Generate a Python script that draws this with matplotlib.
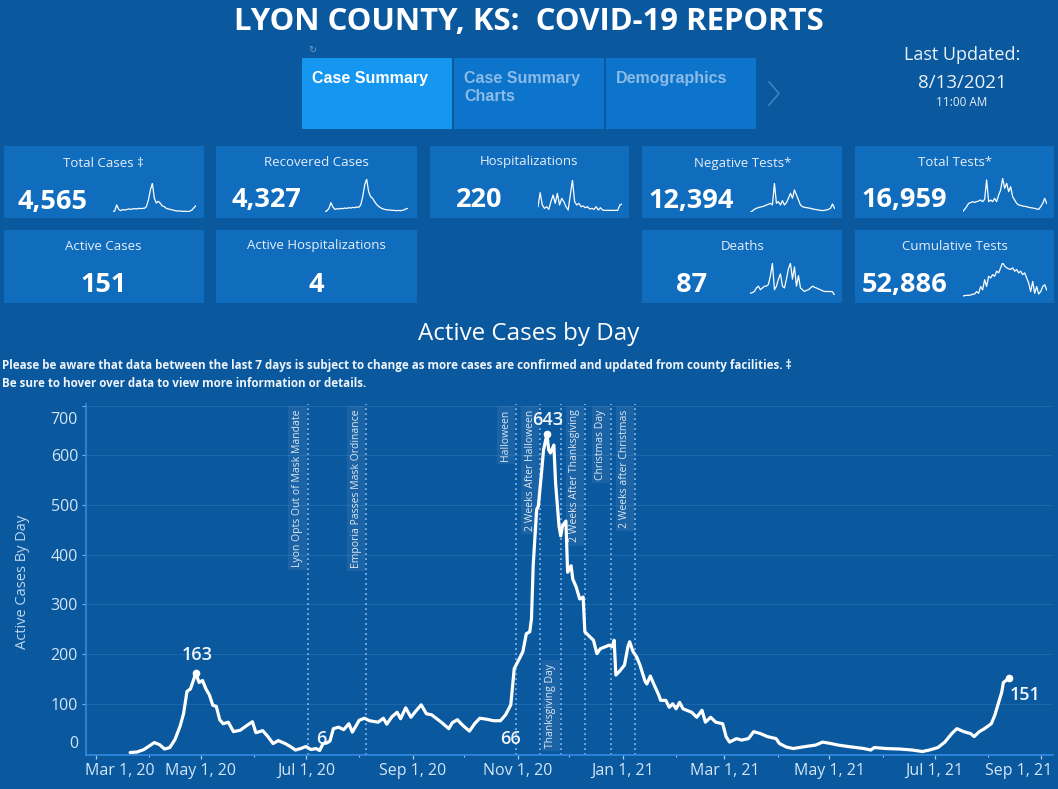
import datetime as dt
import numpy as np
import matplotlib
matplotlib.use("Agg")
import matplotlib.pyplot as plt
import matplotlib.dates as mdates
from matplotlib import font_manager
from matplotlib.patches import Rectangle
from matplotlib.lines import Line2D
from matplotlib.transforms import ScaledTranslation, blended_transform_factory

# ---------------- datos ----------------
card_titles = ["Total Cases ‡", "Recovered Cases", "Hospitalizations", "Negative Tests*", "Total Tests*",
               "Active Cases", "Active Hospitalizations", "Deaths", "Cumulative Tests"]
card_values = [4565, 4327, 220, 12394, 16959, 151, 4, 87, 52886]

spark_total_cases = [2, 4, 22, 9, 5, 8, 7, 8, 10, 9, 10, 11, 10, 12, 11, 12, 12, 17, 37, 67, 87, 42,
                     28, 33, 27, 19, 17, 12, 10, 9, 7, 6, 4, 4, 4, 3, 3, 3, 2, 4, 7, 14, 20]
spark_recovered = [0, 3, 10, 27, 14, 7, 9, 8, 10, 9, 11, 10, 12, 11, 13, 12, 14, 13, 20, 45, 80, 98,
                   60, 45, 40, 30, 22, 16, 12, 9, 7, 6, 5, 5, 4, 4, 3, 4, 3, 4, 6, 9, 10]
spark_hosp = [12, 54, 17, 7, 12, 4, 27, 47, 22, 52, 17, 37, 27, 12, 2, 47, 92, 27, 17, 22, 12, 14,
              9, 12, 5, 7, 4, 12, 2, 9, 2, 1, 1, 1, 1, 1, 1, 1, 17, 20]
spark_negative = [0, 4, 9, 12, 14, 16, 17, 19, 22, 24, 27, 22, 87, 27, 32, 22, 35, 22, 29, 42, 57, 42,
                  67, 52, 37, 22, 17, 15, 14, 13, 12, 10, 9, 8, 7, 6, 5, 6, 7, 9, 12, 25, 12]
spark_total_tests = [0, 7, 15, 25, 27, 30, 28, 30, 32, 35, 30, 37, 95, 30, 35, 30, 40, 30, 50, 65, 100,
                     70, 85, 60, 75, 45, 35, 25, 20, 19, 17, 16, 15, 13, 12, 11, 10, 8, 7, 15, 25, 40, 25]
spark_deaths = [5, 7, 10, 20, 25, 15, 20, 25, 25, 30, 55, 90, 15, 25, 45, 60, 25, 20, 45, 75, 90, 45,
                80, 25, 55, 20, 15, 10, 13, 15, 20, 25, 22, 20, 17, 15, 12, 10, 10, 10, 10, 9, 0]
spark_cumulative = [2, 3, 4, 4, 5, 7, 8, 15, 10, 30, 20, 50, 30, 60, 55, 65, 60, 75, 70, 85, 100, 90,
                    85, 82, 80, 85, 75, 80, 70, 75, 65, 70, 55, 40, 15, 45, 10, 30, 8, 15, 30, 35, 20]

active_dates = [
    "2020-03-21", "2020-03-25", "2020-03-29",
    "2020-04-01", "2020-04-04", "2020-04-07", "2020-04-10", "2020-04-13", "2020-04-16", "2020-04-19",
    "2020-04-21", "2020-04-23", "2020-04-25", "2020-04-27", "2020-04-28", "2020-04-30",
    "2020-05-02", "2020-05-04", "2020-05-06", "2020-05-08", "2020-05-10", "2020-05-12", "2020-05-14",
    "2020-05-17", "2020-05-20", "2020-05-24", "2020-05-28", "2020-05-31",
    "2020-06-02", "2020-06-06", "2020-06-09", "2020-06-12", "2020-06-15", "2020-06-19", "2020-06-22",
    "2020-06-25", "2020-06-28",
    "2020-07-01", "2020-07-04", "2020-07-07", "2020-07-09", "2020-07-11", "2020-07-13", "2020-07-15",
    "2020-07-17", "2020-07-20", "2020-07-23", "2020-07-26", "2020-07-28",
    "2020-08-01", "2020-08-04", "2020-08-07", "2020-08-12", "2020-08-15", "2020-08-17", "2020-08-20",
    "2020-08-23", "2020-08-25", "2020-08-28", "2020-08-31",
    "2020-09-03", "2020-09-06", "2020-09-09", "2020-09-12", "2020-09-15", "2020-09-18", "2020-09-22",
    "2020-09-24", "2020-09-27", "2020-09-30",
    "2020-10-04", "2020-10-07", "2020-10-10", "2020-10-14", "2020-10-18", "2020-10-22", "2020-10-25",
    "2020-10-28", "2020-10-30",
    "2020-11-02", "2020-11-04", "2020-11-06", "2020-11-08", "2020-11-09", "2020-11-10", "2020-11-12",
    "2020-11-13", "2020-11-15", "2020-11-16", "2020-11-18", "2020-11-19", "2020-11-20", "2020-11-22",
    "2020-11-23", "2020-11-25", "2020-11-26", "2020-11-27", "2020-11-29", "2020-11-30",
    "2020-12-02", "2020-12-03", "2020-12-05", "2020-12-07", "2020-12-09", "2020-12-10", "2020-12-12",
    "2020-12-15", "2020-12-17", "2020-12-19", "2020-12-22", "2020-12-24", "2020-12-26", "2020-12-27",
    "2020-12-28", "2020-12-30",
    "2021-01-02", "2021-01-04", "2021-01-05", "2021-01-07", "2021-01-09", "2021-01-11", "2021-01-14",
    "2021-01-15", "2021-01-17", "2021-01-19", "2021-01-22", "2021-01-23", "2021-01-26", "2021-01-28",
    "2021-01-30",
    "2021-02-01", "2021-02-03", "2021-02-05", "2021-02-10", "2021-02-13", "2021-02-16", "2021-02-18",
    "2021-02-21", "2021-02-24", "2021-02-28",
    "2021-03-02", "2021-03-04", "2021-03-08", "2021-03-11", "2021-03-15", "2021-03-18", "2021-03-22",
    "2021-03-26", "2021-03-31",
    "2021-04-02", "2021-04-06", "2021-04-10", "2021-04-17", "2021-04-23", "2021-04-27",
    "2021-05-02", "2021-05-06", "2021-05-12", "2021-05-21", "2021-05-25", "2021-05-27",
    "2021-06-03", "2021-06-11", "2021-06-18", "2021-06-24", "2021-06-28",
    "2021-07-03", "2021-07-07", "2021-07-11", "2021-07-14", "2021-07-18", "2021-07-22", "2021-07-24",
    "2021-07-27", "2021-07-30",
    "2021-08-03", "2021-08-05", "2021-08-07", "2021-08-09", "2021-08-10", "2021-08-13",
]
active_values = [
    2, 3, 8,
    15, 22, 18, 9, 12, 28, 55, 80, 125, 130, 150, 163, 143,
    147, 130, 118, 97, 95, 68, 60, 63, 44, 47, 57, 64,
    42, 46, 34, 20, 26, 20, 14, 7, 10,
    14, 8, 10, 6, 20, 21, 25, 50, 53, 48, 60, 43,
    67, 71, 66, 63, 71, 59, 74, 83, 70, 92, 73,
    86, 98, 80, 78, 70, 62, 50, 62, 68, 57,
    45, 60, 71, 69, 66, 66, 78, 98, 171,
    191, 205, 241, 245, 271, 378, 491, 498, 571, 611, 643, 611, 605, 621, 545, 458, 438, 458, 468, 365,
    378, 351, 335, 311, 315, 245, 238, 228, 201, 211, 215, 218, 215, 228, 158, 165,
    178, 215, 225, 205, 195, 178, 145, 140, 156, 140, 117, 107, 107, 93, 100,
    90, 103, 90, 83, 73, 87, 63, 73, 63, 60,
    34, 23, 30, 27, 30, 44, 40, 34, 30,
    20, 13, 10, 14, 17, 23,
    20, 17, 14, 10, 7, 12,
    10, 9, 7, 4, 7,
    12, 23, 40, 50, 44, 40, 34, 44, 50,
    60, 77, 100, 123, 143, 151,
]

labeled_dates = ["2020-04-28", "2020-07-09", "2020-10-22", "2020-11-18", "2021-08-13"]

event_names = ["Lyon Opts Out of Mask Mandate", "Emporia Passes Mask Ordinance", "Halloween",
               "2 Weeks After Halloween", "Thanksgiving Day", "2 Weeks After Thanksgiving",
               "Christmas Day", "2 Weeks after Christmas"]
event_dates = ["2020-07-02", "2020-08-05", "2020-10-31", "2020-11-14", "2020-11-26",
               "2020-12-10", "2020-12-25", "2021-01-08"]
event_side = ["top", "top", "top", "top", "bottom", "top", "top", "top"]

x_tick_dates = ["2020-03-01", "2020-05-01", "2020-07-01", "2020-09-01", "2020-11-01",
                "2021-01-01", "2021-03-01", "2021-05-01", "2021-07-01", "2021-09-01"]
x_tick_labels = ["Mar 1, 20", "May 1, 20", "Jul 1, 20", "Sep 1, 20", "Nov 1, 20",
                 "Jan 1, 21", "Mar 1, 21", "May 1, 21", "Jul 1, 21", "Sep 1, 21"]
x_minor_dates = ["2020-04-01", "2020-06-01", "2020-08-01", "2020-10-01", "2020-12-01",
                 "2021-02-01", "2021-04-01", "2021-06-01", "2021-08-01"]
y_ticks = [0, 100, 200, 300, 400, 500, 600, 700]

tab_names = ["Case Summary", "Case Summary\nCharts", "Demographics"]
update_lines = ["Last Updated:", "8/13/2021", "11:00 AM"]

# ---------------- estilo ----------------
W, H = 1058, 789
BG = "#0a589e"
CARD = "#106dbd"
TAB_ON = "#1596f0"
TAB_OFF = "#0d74cb"
SPINE = "#2f8ae0"
TICK_TXT = "#d3e5f7"
WHITE = "#ffffff"

installed = {f.name for f in font_manager.fontManager.ttflist}
SANS = ["Open Sans", "DejaVu Sans"] if "Open Sans" in installed else ["DejaVu Sans"]
ARIAL = ["Liberation Sans", "DejaVu Sans"]
plt.rcParams["font.family"] = SANS

fig = plt.figure(figsize=(W / 100, H / 100), dpi=100, facecolor=BG)


def fx(x):
    return x / W


def fy(y):
    return 1 - y / H


def caja(x0, y0, x1, y1, color):
    fig.add_artist(Rectangle((fx(x0), fy(y1)), (x1 - x0) / W, (y1 - y0) / H,
                             transform=fig.transFigure, facecolor=color, edgecolor="none", zorder=0))


def texto(x, y, s, **kw):
    return fig.text(fx(x), fy(y), s, **kw)


def ajustar_ancho(t, ancho):
    r = fig.canvas.get_renderer()
    w = t.get_window_extent(r).width
    t.set_fontsize(t.get_fontsize() * ancho / w)


# Titulo
t = texto(529, 30, "LYON COUNTY, KS:  COVID-19 REPORTS", ha="center", va="baseline",
          fontsize=24, weight="bold", color=WHITE)
ajustar_ancho(t, 592)

# Pestañas
tab_x = [(302, 452), (454, 604), (606, 756)]
for i, (nombre, (x0, x1)) in enumerate(zip(tab_names, tab_x)):
    caja(x0, 58, x1, 129, TAB_ON if i == 0 else TAB_OFF)
    for j, linea in enumerate(nombre.split("\n")):
        texto(x0 + 10, 82.5 + 18.5 * j, linea, ha="left", va="baseline", fontsize=11.5,
              weight="bold", family=ARIAL, color=WHITE if i == 0 else "#8cbbe8")
fig.add_artist(Line2D([fx(769), fx(779), fx(769)], [fy(82), fy(93.5), fy(105)],
                      transform=fig.transFigure, color="#3b83c4", lw=1.2))
texto(312, 50, "↻", ha="center", va="center", fontsize=7, color="#6f9ccb", family=["DejaVu Sans"])

# Ultima actualizacion
texto(962, 59.5, update_lines[0], ha="center", va="baseline", fontsize=13, color="#e8f0f8")
texto(962, 87.5, update_lines[1], ha="center", va="baseline", fontsize=13.5, color="#e8f0f8")
texto(962, 106.5, update_lines[2], ha="center", va="baseline", fontsize=8.5, color="#e8f0f8")

# Tarjetas
col_x = [(4, 204), (216, 416.7), (430, 629), (642, 842), (855, 1054)]
row_y = [(146, 218), (230, 303)]
slots = [(0, 0), (0, 1), (0, 2), (0, 3), (0, 4), (1, 0), (1, 1), (1, 3), (1, 4)]
title_pos = [(103.5, 167), (316.5, 165.5), (529.3, 165.5), (742.4, 167), (955, 165.5),
             (103.3, 249.5), (316.5, 249.5), (742.4, 249.5), (954.6, 249.5)]
value_pos = [(52.5, 209), (266, 206.7), (479.5, 206.7), (691.5, 208.3), (904.7, 206.7),
             (103.3, 291.7), (316, 291.7), (692, 291.7), (904.8, 291.7)]
for k, (fila, col) in enumerate(slots):
    x0, x1 = col_x[col]
    y0, y1 = row_y[fila]
    caja(x0, y0, x1, y1, CARD)
    texto(*title_pos[k], card_titles[k], ha="center", va="baseline", fontsize=9.5,
          color="#e6eef8", family=SANS + ["DejaVu Sans"])
    texto(*value_pos[k], f"{card_values[k]:,}", ha="center", va="baseline", fontsize=19.5,
          weight="bold", color=WHITE)

spark_series = [spark_total_cases, spark_recovered, spark_hosp, spark_negative, spark_total_tests,
                spark_deaths, spark_cumulative]
spark_box = [(112.7, 183.3, 196, 212.3), (325, 179, 408.3, 211.7), (538, 180, 622, 210.7),
             (750.4, 183.3, 834.5, 212.3), (962.6, 178.3, 1046.7, 211.7),
             (750.4, 263.3, 834.5, 295), (962.6, 262.7, 1046.7, 296.7)]
for serie, (x0, y0, x1, y1) in zip(spark_series, spark_box):
    sax = fig.add_axes([fx(x0), fy(y1), (x1 - x0) / W, (y1 - y0) / H])
    sax.plot(np.arange(len(serie)), serie, color=WHITE, lw=0.9)
    sax.set_xlim(0, len(serie) - 1)
    sax.set_ylim(0, max(serie))
    sax.axis("off")

# Titulo del grafico y notas
t = texto(529, 339.5, "Active Cases by Day", ha="center", va="baseline", fontsize=14.5, color=WHITE)
ajustar_ancho(t, 221)
t = texto(2, 369, "Please be aware that data between the last 7 days is subject to change as more cases "
          "are confirmed and updated from county facilities. ‡", ha="left", va="baseline",
          fontsize=8, weight="bold", color="#eef4fa", family=SANS + ["DejaVu Sans"])
ajustar_ancho(t, 798)
texto(2, 386.5, "Be sure to hover over data to view more information or details.", ha="left",
      va="baseline", fontsize=t.get_fontsize(), weight="bold", color="#eef4fa")

# ---------------- grafico principal ----------------
AX_L, AX_R, AX_T, AX_B = 86.4, 1053, 404.3, 754.5
ax = fig.add_axes([fx(AX_L), fy(AX_B), (AX_R - AX_L) / W, (AX_B - AX_T) / H])
ax.set_facecolor(BG)

fechas = [dt.date.fromisoformat(d) for d in active_dates]
ax.plot(fechas, active_values, color=WHITE, lw=2.3, solid_joinstyle="round",
        solid_capstyle="round", zorder=4)

x_left = mdates.date2num(dt.date(2020, 3, 1)) - 5.4
x_right = mdates.date2num(dt.date(2021, 9, 1)) + 6.8
ax.set_xlim(x_left, x_right)
ax.set_ylim(-2, 703)

for s in ["top", "right"]:
    ax.spines[s].set_visible(False)
for s in ["left", "bottom"]:
    ax.spines[s].set_color(SPINE)
    ax.spines[s].set_linewidth(1.2)

ax.set_yticks(y_ticks)
ax.set_yticklabels([str(v) for v in y_ticks])
ax.set_xticks([mdates.date2num(dt.date.fromisoformat(d)) for d in x_tick_dates])
ax.set_xticklabels(x_tick_labels)
ax.set_xticks([mdates.date2num(dt.date.fromisoformat(d)) for d in x_minor_dates], minor=True)
ax.grid(axis="y", color="#1a67ab", lw=0.8)
ax.set_axisbelow(True)
ax.tick_params(axis="y", length=3, width=0.8, color="#7fb2e4", pad=3, labelsize=11.5,
               labelcolor=TICK_TXT)
ax.tick_params(axis="x", which="major", length=3.2, width=0.9, color="#a9cbee", pad=3,
               labelsize=11.5, labelcolor=TICK_TXT)
ax.tick_params(axis="x", which="minor", length=1.6, width=0.8, color="#a9cbee")


def desplazar(lbl, dx_px, dy_px):
    lbl.set_transform(lbl.get_transform() + ScaledTranslation(dx_px / 100, dy_px / 100,
                                                              fig.dpi_scale_trans))


yt = ax.yaxis.get_major_ticks()
yt[0].tick1line.set_visible(False)
desplazar(yt[0].label1, 0, 11.5)
desplazar(yt[-1].label1, 0, -12.5)
xt = ax.xaxis.get_major_ticks()
xt[0].label1.set_horizontalalignment("left")
desplazar(xt[0].label1, -10.5, 0)
xt[-1].label1.set_horizontalalignment("right")
desplazar(xt[-1].label1, 11, 0)

texto(22.5, 581.5, "Active Cases By Day", ha="center", va="center", rotation=90,
      fontsize=10.5, color="#bcd6f1")

# Lineas de referencia
trans_ev = blended_transform_factory(ax.transData, ax.transAxes)
for nombre, fecha, lado in zip(event_names, event_dates, event_side):
    d = mdates.date2num(dt.date.fromisoformat(fecha))
    ax.axvline(d, color="#86b7e8", lw=1.2, ls=(0, (1.1, 1.9)), zorder=2)
    if lado == "top":
        tr = trans_ev + ScaledTranslation(-4.5 / 100, -5 / 100, fig.dpi_scale_trans)
        ax.text(d, 1, nombre, transform=tr, rotation=90, ha="right", va="top", fontsize=7.5,
                color="#dbe8f5", zorder=3,
                bbox=dict(boxstyle="square,pad=0.35", fc=(1, 1, 1, 0.07), ec="none"))
    else:
        tr = trans_ev + ScaledTranslation(-4.5 / 100, 7 / 100, fig.dpi_scale_trans)
        ax.text(d, 0, nombre, transform=tr, rotation=90, ha="right", va="bottom", fontsize=7.5,
                color="#dbe8f5", zorder=3,
                bbox=dict(boxstyle="square,pad=0.35", fc=(1, 1, 1, 0.07), ec="none"))

# Etiquetas de puntos
label_offsets = [(1.4, 17.7, "center"), (1.4, 11.7, "center"), (10.5, -18.3, "center"),
                 (1.0, 14.2, "center"), (1.5, -16.8, "left")]
for fecha, (dx, dy, ha) in zip(labeled_dates, label_offsets):
    d = dt.date.fromisoformat(fecha)
    v = active_values[active_dates.index(fecha)]
    if fecha in ("2020-04-28", "2020-11-18", "2021-08-13"):
        ax.plot([d], [v], "o", ms=4.5, color=WHITE, zorder=5)
    ax.annotate(str(v), xy=(d, v), xytext=(dx * 0.72, dy * 0.72), textcoords="offset points",
                ha=ha, va="center", fontsize=13, weight="semibold", color="#f2f7fc", zorder=3)

fig.savefig("out.png", dpi=100, facecolor=BG)
